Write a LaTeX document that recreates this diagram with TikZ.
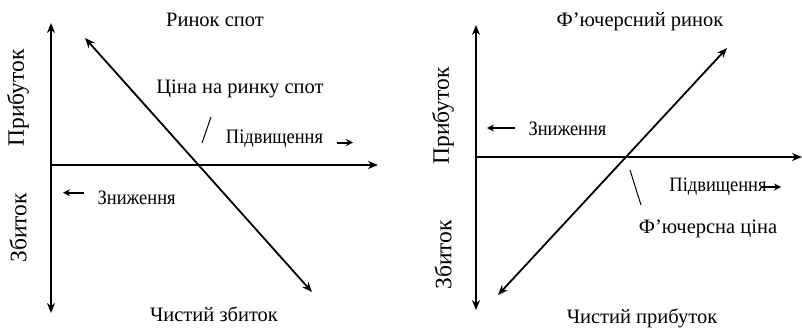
\documentclass[tikz,border=0pt]{standalone}
\usepackage{fontspec}
\usepackage{graphicx}
\setmainfont{Liberation Serif}
\usetikzlibrary{arrows.meta}
\newcommand\condtxt[1]{\scalebox{0.9}[1]{#1}}
\begin{document}
\begin{tikzpicture}[x=1pt,y=-1pt,
  ax/.style={line width=1.8pt,{Stealth[length=10pt,width=8pt]}-{Stealth[length=10pt,width=8pt]}},
  ar/.style={line width=1.8pt,-{Stealth[length=10pt,width=8pt]}},
  sm/.style={line width=2pt,-{Stealth[length=7pt,width=7pt]}},
  tick/.style={line width=1pt},
  lbl/.style={font=\fontsize{20.5}{24}\selectfont,inner sep=0pt},
  dir/.style={font=\fontsize{20.5}{24}\selectfont,inner sep=0pt},
  side/.style={font=\fontsize{23.5}{28}\selectfont,inner sep=0pt,rotate=90}]
\useasboundingbox (0,0) rectangle (802,327);
% ---------- left panel ----------
\coordinate (LvT) at (51,23);
\coordinate (LvB) at (51,313);
\coordinate (LhL) at (51,165);
\coordinate (LhR) at (378,165);
\coordinate (LdA) at (85,38);
\coordinate (LdB) at (312,292);
\draw[ax] (LvB) -- (LvT);
\draw[ar] (LhL) -- (LhR);
\draw[ax] (LdA) -- (LdB);
\coordinate (Lt1) at (202,143);
\coordinate (Lt2) at (211,117);
\draw[tick] (Lt1) -- (Lt2);
\node[lbl] (ls) at (215,20) {Ринок спот};
\node[lbl] (lp) at (240,89) {Ціна на ринку спот};
\node[dir] (lup) at (274.5,139) {\condtxt{Підвищення}};
\coordinate (Lua) at (337,142.5);
\coordinate (Lub) at (353,142.5);
\draw[sm] (Lua) -- (Lub);
\node[dir] (ldn) at (136.7,198) {\condtxt{Зниження}};
\coordinate (Lda) at (84,192.7);
\coordinate (Ldb) at (63,192.7);
\draw[sm] (Lda) -- (Ldb);
\node[side] (lpr) at (18,98) {Прибуток};
\node[side] (lzb) at (18,228) {Збиток};
\node[lbl] (lnet) at (214,314) {Чистий збиток};
% ---------- right panel ----------
\coordinate (RvT) at (476,25);
\coordinate (RvB) at (476,310);
\coordinate (RhL) at (476,157);
\coordinate (RhR) at (802,157);
\coordinate (RdA) at (498,295);
\coordinate (RdB) at (727,48);
\draw[ax] (RvB) -- (RvT);
\draw[ar] (RhL) -- (RhR);
\draw[ax] (RdA) -- (RdB);
\coordinate (Rt1) at (630,170);
\coordinate (Rt2) at (641,205);
\draw[tick] (Rt1) -- (Rt2);
\node[lbl] (rs) at (640,22) {Ф’ючерсний ринок};
\node[dir] (rdn) at (567.5,129) {\condtxt{Зниження}};
\coordinate (Rda) at (515,128);
\coordinate (Rdb) at (487,128);
\draw[sm] (Rda) -- (Rdb);
\node[dir] (rup) at (718,187) {\condtxt{Підвищення}};
\coordinate (Rua) at (762,187);
\coordinate (Rub) at (781,187);
\draw[sm] (Rua) -- (Rub);
\node[lbl] (rfp) at (708,229) {Ф’ючерсна ціна};
\node[side] (rpr) at (443,116) {Прибуток};
\node[side] (rzb) at (443,255) {Збиток};
\node[lbl] (rnet) at (642,318) {Чистий прибуток};
\end{tikzpicture}
\end{document}
